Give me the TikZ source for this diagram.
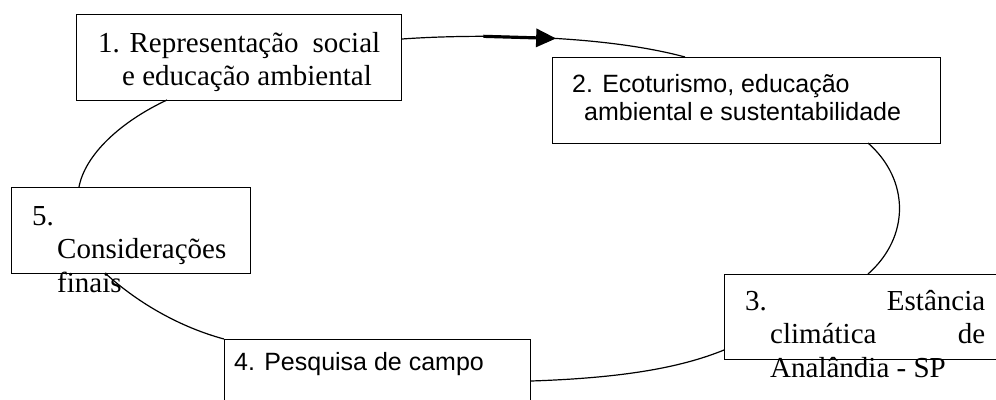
\documentclass[tikz,border=0pt]{standalone}
\usepackage{fontspec}
\setmainfont{Liberation Serif}
\newfontfamily\arialfont{Liberation Sans}
\usepackage{tikz}
\usetikzlibrary{arrows.meta}

\tikzset{
	etapa/.style={draw, line width=1.1pt, inner sep=0pt, anchor=north west},
	rotulo/.style={anchor=base west, inner sep=0pt, font=\fontsize{29}{33.5}\selectfont},
	rotulosans/.style={anchor=base west, inner sep=0pt, font=\arialfont\fontsize{25}{28}\selectfont},
	ligacao/.style={line width=1.2pt},
}

\begin{document}
\begin{tikzpicture}[x=1pt, y=-1pt]
	\path[use as bounding box, fill=white] (0,0) rectangle (996,399);
	\clip (0,0) rectangle (996,399);

	% caixas
	\node[etapa, minimum width=325pt, minimum height=86pt] (b1) at (76,14) {};
	\node[etapa, minimum width=388pt, minimum height=86pt] (b2) at (552,57) {};
	\node[etapa, minimum width=290pt, minimum height=85pt] (b3) at (724,274) {};
	\node[etapa, minimum width=306pt, minimum height=80pt] (b4) at (224,339) {};
	\node[etapa, minimum width=239pt, minimum height=86pt] (b5) at (11,187) {};

	% textos
	\node[rotulo] (t1) at ([shift={(22,38)}]b1.north west)
		{\vtop{\hbox to 282pt{1. Representação\hfill social}\hbox{\hspace*{24pt}e educação ambiental}}};
	\node[rotulosans] (t2) at ([shift={(20,35)}]b2.north west)
		{\vtop{\hbox{2. Ecoturismo, educação}\hbox{\hspace*{12pt}ambiental e sustentabilidade}}};
	\node[rotulo] (t3) at ([shift={(21,36)}]b3.north west)
		{\vtop{\hbox to 240pt{3.\hfill Estância}\hbox to 240pt{\hspace*{25pt}climática\hfill de}\hbox{\hspace*{25pt}Analândia - SP}}};
	\node[rotulosans] (t4) at ([shift={(10,31)}]b4.north west) {4. Pesquisa de campo};
	\node[rotulo] (t5) at ([shift={(21,38)}]b5.north west)
		{\vtop{\hbox{5.}\hbox{\hspace*{25pt}Considerações}\hbox{\hspace*{25pt}finais}}};

	% ciclo
	\draw[ligacao] ([shift={(0,25)}]b1.north east) .. controls +(69,-5) and +(-85,-23) .. ([shift={(133,0)}]b2.north west)
		coordinate[pos=0.32] (s1) coordinate[pos=0.56] (s2);
	\draw[line width=3.2pt, -{Triangle[length=20pt, width=18pt]}] (s1) -- (s2);
	\draw[ligacao] ([shift={(316,86)}]b2.north west) .. controls +(42,37) and +(42,-37) .. ([shift={(144,0)}]b3.north west);
	\draw[ligacao] ([shift={(0,76)}]b3.north west) .. controls +(-44,18) and +(90,-3) .. ([shift={(0,42)}]b4.north east);
	\draw[ligacao] (b4.north west) .. controls +(-41,-11) and +(35,32) .. ([shift={(94,86)}]b5.north west);
	\draw[ligacao] ([shift={(68,0)}]b5.north west) .. controls +(6,-32) and +(-47,22) .. ([shift={(91,86)}]b1.north west);
\end{tikzpicture}
\end{document}
